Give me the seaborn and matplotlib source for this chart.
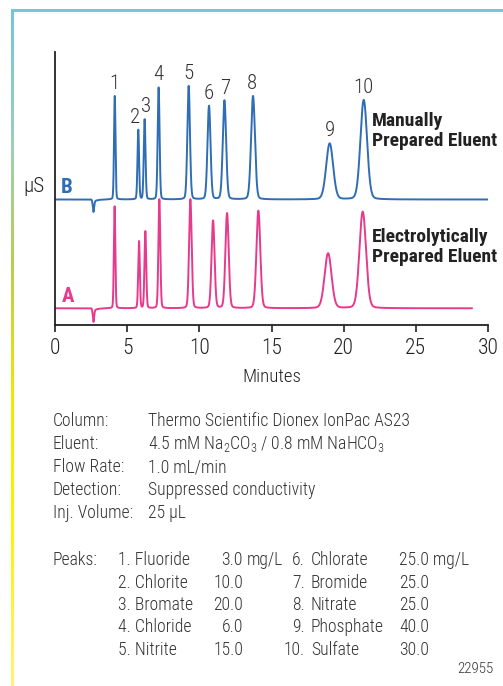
import numpy as np
import pandas as pd
import matplotlib
matplotlib.use("Agg")
import matplotlib.pyplot as plt
from matplotlib import font_manager
from matplotlib.colors import LinearSegmentedColormap
import seaborn as sns

# peak data (times in min, heights in px-like uS units)
peak_ids = ["1", "2", "3", "4", "5", "6", "7", "8", "9", "10"]
times_b = [4.14, 5.77, 6.21, 7.18, 9.26, 10.67, 11.74, 13.72, 19.03, 21.39]
heights_b = [103.5, 69.5, 80.0, 112.0, 113.5, 93.5, 99.0, 103.5, 56.0, 99.5]
times_a = [4.13, 5.82, 6.26, 7.23, 9.38, 10.95, 11.92, 14.09, 18.92, 21.32]
heights_a = [102.0, 67.0, 77.0, 109.0, 109.0, 87.6, 95.0, 97.6, 55.0, 96.6]
widths = [0.05, 0.055, 0.06, 0.065, 0.09, 0.105, 0.115, 0.135, 0.24, 0.23]
dip_time = 2.66
dip_depth = [-10.0, -11.0]   # B, A
run_end = [30.0, 28.9]       # B, A
offset_b = 108.8

info_labels = ["Column:", "Eluent:", "Flow Rate:", "Detection:", "Inj. Volume:"]
info_values = ["Thermo Scientific Dionex IonPac AS23",
               "4.5 mM Na$_2$CO$_3$ / 0.8 mM NaHCO$_3$",
               "1.0 mL/min", "Suppressed conductivity", "25 µL"]
analytes = ["Fluoride", "Chlorite", "Bromate", "Chloride", "Nitrite",
            "Chlorate", "Bromide", "Nitrate", "Phosphate", "Sulfate"]
conc = ["3.0", "10.0", "20.0", "6.0", "15.0", "25.0", "25.0", "25.0", "40.0", "30.0"]

BLUE = "#2f6db5"
PINK = "#e83a8c"
INK = "#333333"


def trace(t, times, heights, dip):
    y = dip * np.exp(-0.5 * ((t - dip_time) / 0.05) ** 2)
    y += 0.25 * dip * np.exp(-(t - dip_time) / 0.25) * (t > dip_time)
    for tr, h, w in zip(times, heights, widths):
        g = np.exp(-0.5 * ((t - tr) / w) ** 2)
        lor = 1.0 / (1.0 + ((t - tr) / (1.18 * w)) ** 2)
        y += h * (0.88 * g + 0.12 * lor)
    return y


t_b = np.linspace(0, run_end[0], 6000)
t_a = np.linspace(0, run_end[1], 6000)
df = pd.concat([
    pd.DataFrame({"Minutes": t_b, "signal": trace(t_b, times_b, heights_b, dip_depth[0]) + offset_b, "run": "B"}),
    pd.DataFrame({"Minutes": t_a, "signal": trace(t_a, times_a, heights_a, dip_depth[1]), "run": "A"}),
])

sns.set_style("ticks")
avail = {f.name for f in font_manager.fontManager.ttflist}
family = "Roboto"
for cand in ["Roboto Condensed", "Liberation Sans Narrow", "Open Sans Condensed"]:
    if cand in avail:
        family = cand
        break
plt.rcParams["font.family"] = [family, "DejaVu Sans"]
plt.rcParams["font.weight"] = "light"
plt.rcParams["axes.labelweight"] = "light"
plt.rcParams["mathtext.fontset"] = "custom"
plt.rcParams["mathtext.rm"] = f"{family}:light"
plt.rcParams["mathtext.it"] = f"{family}:light"

W, H = 503, 686
fig = plt.figure(figsize=(W / 100, H / 100), dpi=100)
fig.patch.set_facecolor("white")


def fx(x):
    return x / W


def fy(y):
    return 1 - y / H


ax = fig.add_axes([fx(55), fy(325), fx(488) - fx(55), fy(52) - fy(325)])
sns.lineplot(data=df, x="Minutes", y="signal", hue="run", palette={"B": BLUE, "A": PINK},
             legend=False, linewidth=1.4, ax=ax, estimator=None, sort=False)
ax.set_xlim(0, 30)
ax.set_ylim(-16.7, 256.3)
ax.set_xticks(range(0, 31, 5))
ax.set_yticks([])
ax.set_ylabel("")
ax.set_xlabel("Minutes", fontsize=13.5, fontweight="light", labelpad=7, color="#222222")
ax.tick_params(axis="x", direction="out", length=5, width=1.2, labelsize=15.5, pad=4, colors="#222222")
for s in ["top", "right"]:
    ax.spines[s].set_visible(False)
for s in ["left", "bottom"]:
    ax.spines[s].set_linewidth(1.3)
    ax.spines[s].set_color("#222222")
ax.patch.set_alpha(0)

# peak numbers on trace B
nudge = [0, -0.22, 0.1, -0.05, 0, -0.05, 0.05, -0.05, 0, 0]
for pid, tr, h, dx in zip(peak_ids, times_b, heights_b, nudge):
    ax.text(tr + dx, h + offset_b + 7, pid, ha="center", va="baseline", fontsize=15, color=INK)

ax.text(0.4, offset_b + 6.5, "B", color=BLUE, fontsize=15, fontweight="bold", va="baseline")
ax.text(0.45, 6.5, "A", color=PINK, fontsize=15, fontweight="bold", va="baseline")
ax.text(21.95, 177, "Manually\nPrepared Eluent", fontsize=14, fontweight="bold",
        color="#222222", va="center", linespacing=1.15)
ax.text(21.95, 61, "Electrolytically\nPrepared Eluent", fontsize=14, fontweight="bold",
        color="#222222", va="center", linespacing=1.15)
fig.text(fx(23), fy(187), "µS", fontsize=15, va="center", ha="left", color="#222222")

# conditions block
fs = 12.7
for i, (lab, val) in enumerate(zip(info_labels, info_values)):
    y = 421 + i * 23
    fig.text(fx(53), fy(y), lab, fontsize=fs, va="center", color=INK)
    fig.text(fx(148), fy(y), val, fontsize=fs, va="center", color=INK)

# peaks table
fig.text(fx(53), fy(560), "Peaks:", fontsize=fs, va="center", color=INK)
for i in range(5):
    y = 560 + i * 22.5
    fig.text(fx(118), fy(y), f"{i + 1}. {analytes[i]}", fontsize=fs, va="center", color=INK)
    fig.text(fx(243), fy(y), conc[i], fontsize=fs, va="center", ha="right", color=INK)
    fig.text(fx(305), fy(y), f"{i + 6}.", fontsize=fs, va="center", ha="right", color=INK)
    fig.text(fx(311), fy(y), analytes[i + 5], fontsize=fs, va="center", color=INK)
    fig.text(fx(399), fy(y), conc[i + 5] + (" mg/L" if i == 0 else ""), fontsize=fs,
             va="center", color=INK)
fig.text(fx(247), fy(560), "mg/L", fontsize=fs, va="center", color=INK)
fig.text(fx(493), fy(669), "22955", fontsize=10.8, va="center", ha="right", color=INK)

# frame: cyan top edge, gradient left edge
fig.add_artist(plt.Line2D([fx(12), 1.0], [fy(9.5), fy(9.5)], color="#72c7df", linewidth=2.2))
cmap = LinearSegmentedColormap.from_list(
    "edge", [(0.0, "#72c7df"), (0.2, "#9dd0b6"), (0.38, "#b5d14e"),
             (0.58, "#f6e600"), (0.75, "#fff000"), (1.0, "#fff27a")])
edge = fig.add_axes([fx(11.2), 0, fx(2.2), fy(9)])
edge.imshow(np.linspace(0, 1, 256)[:, None], aspect="auto", cmap=cmap, origin="upper")
edge.axis("off")

fig.savefig("out.png", dpi=100, facecolor="white")
